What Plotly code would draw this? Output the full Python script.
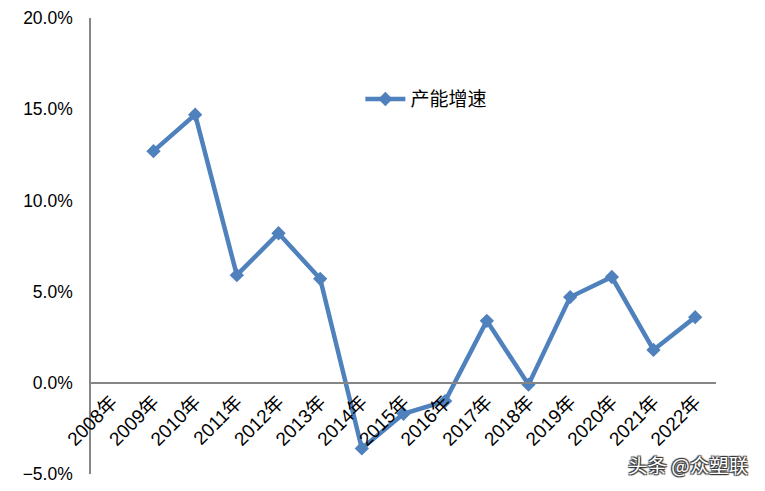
import plotly.graph_objects as go

years = ["2008年", "2009年", "2010年", "2011年", "2012年", "2013年", "2014年", "2015年",
         "2016年", "2017年", "2018年", "2019年", "2020年", "2021年", "2022年"]
growth = [None, 12.7, 14.7, 5.9, 8.2, 5.7, -3.6, -1.7, -1.0, 3.4, -0.1, 4.7, 5.8, 1.8, 3.6]
series_name = "产能增速"

font_family = "Liberation Sans, Noto Sans CJK SC, sans-serif"

fig = go.Figure()
fig.add_trace(go.Scatter(
    x=years, y=growth, name=series_name, mode="lines+markers",
    line=dict(color="#4F81BD", width=4.5),
    marker=dict(symbol="diamond", size=11, color="#4F81BD"),
    connectgaps=False,
))

# page body has an 8px default margin, so the figure is shrunk by 8px
fig.update_layout(
    width=757, height=483,
    margin=dict(l=83, r=49, t=10, b=17, autoexpand=False),
    paper_bgcolor="white", plot_bgcolor="white",
    font=dict(family=font_family, size=14, color="#000000"),
    showlegend=True,
    legend=dict(x=0.431, y=0.822, xanchor="left", yanchor="middle",
                bgcolor="rgba(0,0,0,0)", font=dict(size=19, family="Noto Sans CJK SC"),
                itemwidth=40),
    xaxis=dict(
        type="category", range=[-0.5, 14.5],
        anchor="free", position=0.2, automargin=False,
        showline=True, linecolor="#868686", linewidth=1.5,
        showgrid=False, zeroline=False, ticks="",
        tickangle=-45, tickfont=dict(size=19, family=font_family),
    ),
    yaxis=dict(
        range=[-5, 20], dtick=5, tick0=0, automargin=False,
        tickformat=".1f", ticksuffix="%",
        showline=True, linecolor="#868686", linewidth=1.5,
        showgrid=False, zeroline=False, ticks="",
        ticklabelstandoff=13,
        tickfont=dict(size=17.5, family=font_family),
    ),
    annotations=[dict(
        text="头条 @众塑联", xref="paper", yref="paper", x=1.055, y=0.02,
        xanchor="right", yanchor="middle", showarrow=False,
        font=dict(size=19.5, color="white", family="Noto Sans CJK SC",
                  shadow="1px 1px 1px #333, -1px -1px 1px #333, 1px -1px 1px #333, -1px 1px 1px #333"),
    )],
)

fig.write_html("out.html")
